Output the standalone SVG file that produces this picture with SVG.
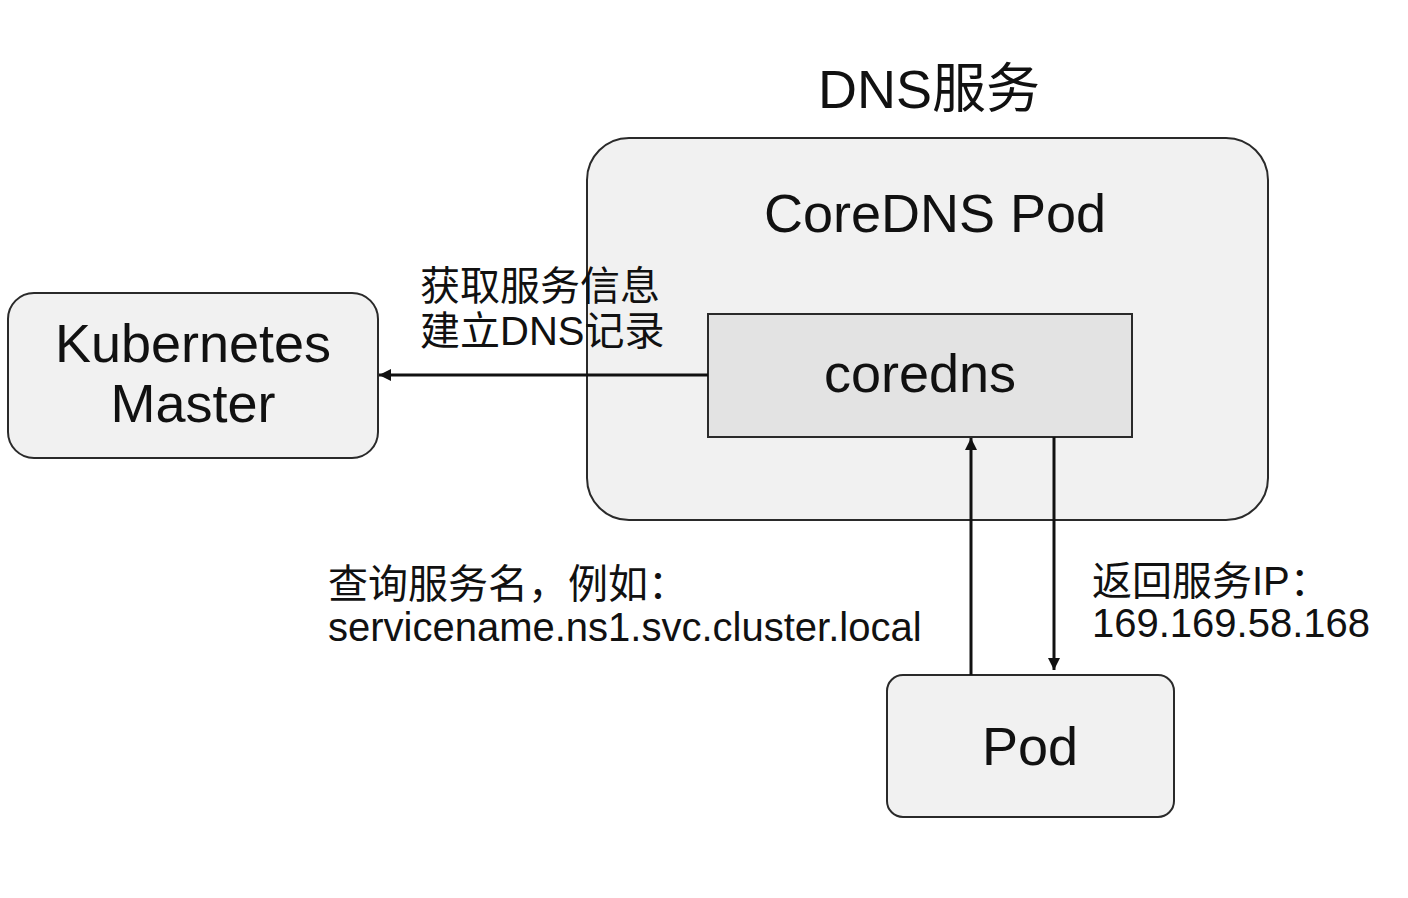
<svg xmlns="http://www.w3.org/2000/svg" width="1408" height="898" viewBox="0 0 1408 898">
<defs>
<style>
.box{fill:#f1f1f1;stroke:#2a2a2a;stroke-width:2}
.inner{fill:#e3e3e3;stroke:#2a2a2a;stroke-width:2}
.big{font-family:"Liberation Sans","Noto Sans CJK SC",sans-serif;font-size:54px;fill:#111}
.lab{font-family:"Liberation Sans","Noto Sans CJK SC",sans-serif;font-size:40px;fill:#111}
.conn{stroke:#111;stroke-width:3;fill:none}
</style>
<marker id="ah" viewBox="0 0 10 10" refX="10" refY="5" markerWidth="4" markerHeight="4" orient="auto" markerUnits="strokeWidth">
<path d="M0,0 L10,5 L0,10 z" fill="#111"/>
</marker>
</defs>
<rect width="1408" height="898" fill="#ffffff"/>
<g id="dns-service">
<text class="big" x="929" y="108" text-anchor="middle">DNS服务</text>
</g>
<g id="coredns-pod">
<rect class="box" x="587" y="138" width="681" height="382" rx="42"/>
<text class="big" x="935" y="232" text-anchor="middle">CoreDNS Pod</text>
</g>
<g id="coredns">
<rect class="inner" x="708" y="314" width="424" height="123"/>
<text class="big" x="920" y="392" text-anchor="middle">coredns</text>
</g>
<g id="k8s-master">
<rect class="box" x="8" y="293" width="370" height="165" rx="26"/>
<text class="big" x="193" y="362" text-anchor="middle">Kubernetes</text>
<text class="big" x="193" y="422" text-anchor="middle">Master</text>
</g>
<g id="pod">
<rect class="box" x="887" y="675" width="287" height="142" rx="16"/>
<text class="big" x="1030" y="765" text-anchor="middle">Pod</text>
</g>
<g id="connectors">
<line class="conn" x1="708" y1="375" x2="379" y2="375" marker-end="url(#ah)"/>
<line class="conn" x1="971" y1="675" x2="971" y2="438" marker-end="url(#ah)"/>
<line class="conn" x1="1054" y1="437" x2="1054" y2="670" marker-end="url(#ah)"/>
<text class="lab" x="420" y="300">获取服务信息</text>
<text class="lab" x="420" y="345">建立DNS记录</text>
<text class="lab" x="328" y="598">查询服务名，例如：</text>
<text class="lab" x="328" y="641">servicename.ns1.svc.cluster.local</text>
<text class="lab" x="1092" y="595">返回服务IP：</text>
<text class="lab" x="1092" y="637">169.169.58.168</text>
</g>
</svg>
